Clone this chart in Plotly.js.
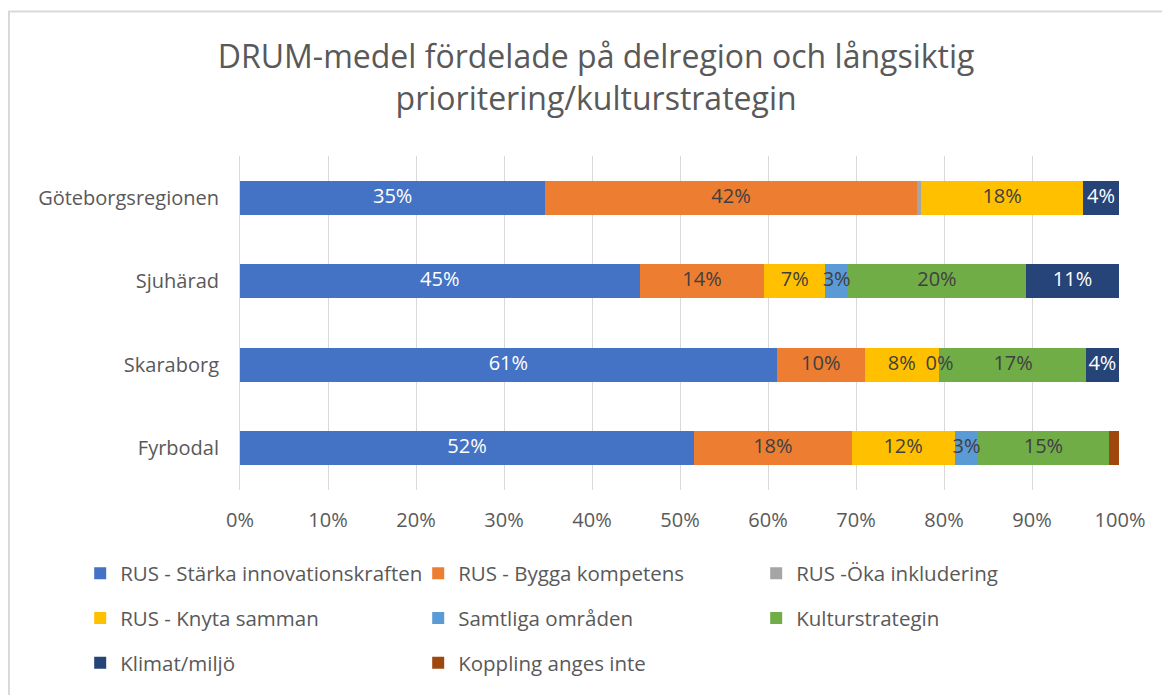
<!DOCTYPE html>
<html>
<head>
<meta charset="utf-8">
<script src="https://cdn.plot.ly/plotly-3.0.1.min.js"></script>
<style>html,body{margin:0;padding:0;background:#fff;}#chart{width:1162px;height:695px;}</style>
</head>
<body>
<div id="chart"></div>
<script>
// Categories (top to bottom)
const regions = ['Göteborgsregionen', 'Sjuhärad', 'Skaraborg', 'Fyrbodal'];

// Shares in percent, per series, in region order
const starkaInnovation = [34.7, 45.4, 61.0, 51.6];
const byggaKompetens   = [42.2, 14.2, 10.0, 17.9];
const okaInkludering   = [0.5, null, null, null];
const knytaSamman      = [18.4, 6.9, 8.4, 11.7];
const samtligaOmraden  = [null, 2.6, 0.2, 2.7];
const kulturstrategin  = [null, 20.2, 16.5, 14.8];
const klimatMiljo      = [4.1, 10.6, 3.8, null];
const kopplingAngesEj  = [null, null, null, 1.2];

const seriesNames = ['RUS - Stärka innovationskraften', 'RUS - Bygga kompetens', 'RUS -Öka inkludering',
  'RUS - Knyta samman', 'Samtliga områden', 'Kulturstrategin', 'Klimat/miljö', 'Koppling anges inte'];
const seriesValues = [starkaInnovation, byggaKompetens, okaInkludering, knytaSamman,
  samtligaOmraden, kulturstrategin, klimatMiljo, kopplingAngesEj];
const seriesColors = ['#4472C4', '#ED7D31', '#A5A5A5', '#FFC000', '#5B9BD5', '#70AD47', '#264478', '#9E480E'];
const labelColors = ['#ffffff', '#404040', '#404040', '#404040', '#404040', '#404040', '#ffffff', '#404040'];
const showLabels = [true, true, false, true, true, true, true, false];
const legendRow = ['legend', 'legend', 'legend', 'legend2', 'legend2', 'legend2', 'legend3', 'legend3'];

const FONT = 'Open Sans, Noto Sans, sans-serif';

const traces = seriesNames.map((name, i) => ({
  type: 'bar',
  orientation: 'h',
  name: name,
  legend: legendRow[i],
  y: regions,
  x: seriesValues[i].map(v => v === null ? null : v / 100),
  marker: {color: seriesColors[i], line: {width: 0}},
  hoverinfo: 'name+x'
}));

// Data labels drawn on top of all bars, at the middle of each segment
const lblX = [], lblY = [], lblT = [], lblC = [];
const cum = regions.map(() => 0);
seriesValues.forEach((vals, i) => {
  vals.forEach((v, j) => {
    if (v === null) return;
    if (showLabels[i]) {
      lblX.push((cum[j] + v / 2) / 100);
      lblY.push(regions[j]);
      lblT.push(Math.round(v) + '%');
      lblC.push(labelColors[i]);
    }
    cum[j] += v;
  });
});
traces.push({
  type: 'scatter',
  mode: 'text',
  x: lblX,
  y: lblY,
  text: lblT,
  textposition: 'middle center',
  textfont: {family: FONT, size: 20, color: lblC},
  showlegend: false,
  cliponaxis: false,
  hoverinfo: 'skip'
});

const legendBase = {
  orientation: 'h',
  traceorder: 'normal',
  x: -0.1816,
  xanchor: 'left',
  yanchor: 'middle',
  entrywidth: 293,
  entrywidthmode: 'pixels',
  itemwidth: 30,
  bgcolor: 'rgba(0,0,0,0)',
  font: {family: FONT, size: 20.5, color: '#595959'}
};
function rowY(px) { return -(px - 492) / 336; }

const layout = {
  width: 1162,
  height: 695,
  paper_bgcolor: '#ffffff',
  plot_bgcolor: '#ffffff',
  barmode: 'stack',
  bargap: 0.595,
  margin: {l: 240, r: 42, t: 156, b: 203},
  title: {
    text: 'DRUM-medel fördelade på delregion och långsiktig<br>prioritering/kulturstrategin',
    font: {family: FONT, size: 32, color: '#595959'},
    x: 0.513, xanchor: 'center', xref: 'container',
    y: 0.902, yanchor: 'top', yref: 'container'
  },
  xaxis: {
    range: [0, 1],
    tickformat: '.0%',
    dtick: 0.1,
    tick0: 0,
    showgrid: true,
    gridcolor: '#d9d9d9',
    gridwidth: 1,
    zeroline: false,
    showline: false,
    ticks: '',
    ticklabelstandoff: 16,
    tickfont: {family: FONT, size: 20, color: '#595959'},
    fixedrange: true
  },
  yaxis: {
    type: 'category',
    autorange: 'reversed',
    showline: true,
    linecolor: '#d9d9d9',
    linewidth: 1,
    showgrid: false,
    zeroline: false,
    ticks: '',
    ticklabelstandoff: 16,
    tickfont: {family: FONT, size: 20, color: '#595959'},
    fixedrange: true
  },
  legend: Object.assign({}, legendBase, {y: rowY(576)}),
  legend2: Object.assign({}, legendBase, {y: rowY(621)}),
  legend3: Object.assign({}, legendBase, {y: rowY(666)}),
  shapes: [{
    type: 'rect', xref: 'paper', yref: 'paper',
    x0: -0.2625, x1: 1.2, y0: -1, y1: 1.433,
    line: {color: '#d9d9d9', width: 2}, fillcolor: 'rgba(0,0,0,0)', layer: 'below'
  }],
  showlegend: true
};

Plotly.newPlot('chart', traces, layout, {displayModeBar: false, staticPlot: true});
</script>
</body>
</html>
